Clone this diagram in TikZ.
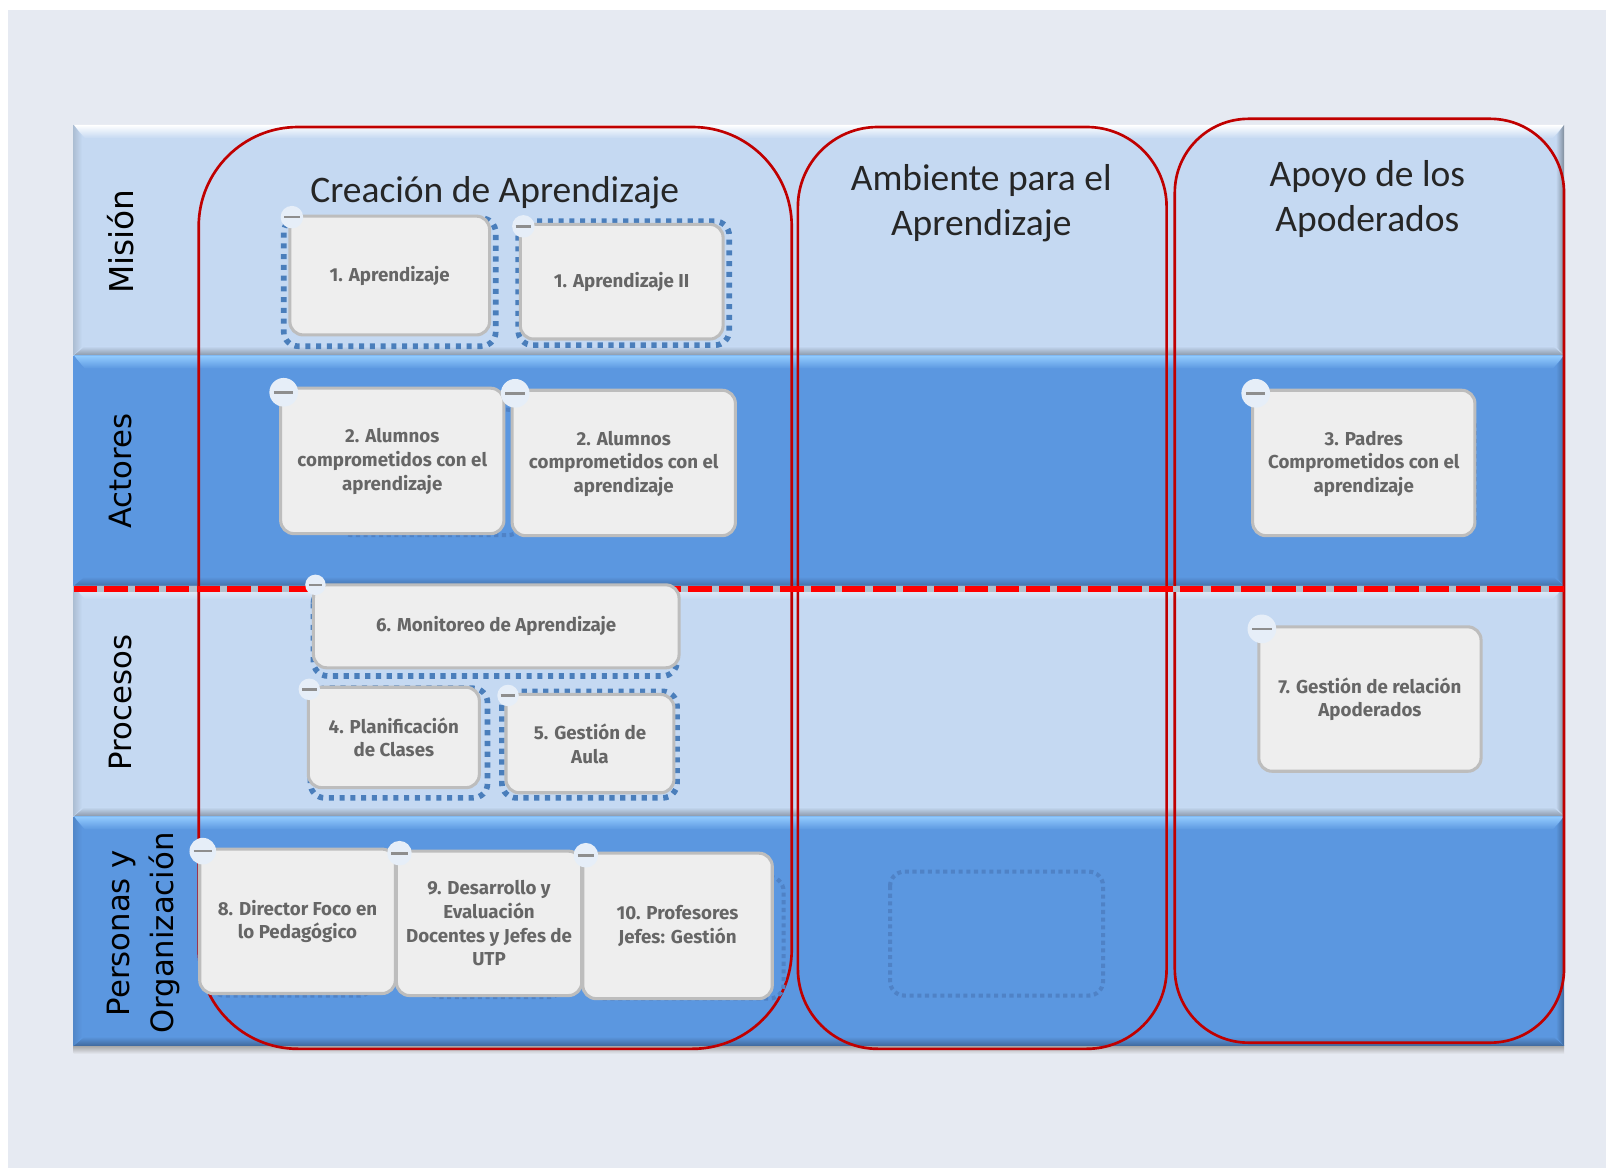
\documentclass[tikz,border=0pt]{standalone}
\usepackage{fontspec}
\setmainfont{Carlito}
\newfontfamily\cardfont{Fira Sans}
\newfontfamily\rowfont{DejaVu Sans}
\usetikzlibrary{calc}
\definecolor{pagebg}{HTML}{E6EAF2}
\definecolor{lightband}{HTML}{C5D9F2}
\definecolor{darkband}{HTML}{5B97E0}
\definecolor{bevelhi}{HTML}{93CCFF}
\definecolor{gapgray}{HTML}{B4BFCC}
\definecolor{framered}{HTML}{C00000}
\definecolor{dotblue}{HTML}{4A7EBB}
\definecolor{dimblue}{HTML}{4F82C6}
\definecolor{cardfill}{HTML}{EEEEEE}
\definecolor{cardline}{HTML}{BDBDBD}
\definecolor{cardtext}{HTML}{666666}
\definecolor{iconfill}{HTML}{E6EEF8}
\definecolor{iconbar}{HTML}{8E8E8E}
\tikzset{
  cardbox/.style={draw=cardline,line width=3pt,fill=cardfill,rounded corners=13pt,inner sep=0pt,
    align=center,text=cardtext,font=\cardfont\bfseries\fontsize{18.3}{23}\selectfont},
  frame/.style={draw=framered,line width=2.6pt},
  dotbox/.style={draw=dotblue,line width=5.5pt,dash pattern=on 5pt off 5.5pt,rounded corners=14pt},
  dimbox/.style={draw=dimblue,line width=4pt,dash pattern=on 4pt off 3.5pt,rounded corners=14pt},
  title/.style={inner sep=0pt,align=center,text=black!85,font=\fontsize{36.6}{44}\selectfont},
  rowlabel/.style={inner sep=0pt,rotate=90,align=center,text=black,font=\rowfont\fontsize{30}{43}\selectfont},
  iconbg/.style={circle,fill=iconfill,draw=none,inner sep=0pt},
  iconline/.style={draw=iconbar,line width=2.6pt},
}
% y0 y1 fill topstart bottom-bevel left right
\newcommand{\bandrow}[7]{%
  \fill[#3] (72,#1) rectangle (1527,#2);
  \shade[top color=#4,middle color=#4,bottom color=#3] (72,#1) -- (1527,#1) -- (1516,#1+13) -- (83,#1+13) -- cycle;
  \shade[top color=#3,bottom color=#5] (72,#2) -- (1527,#2) -- (1516,#2-9) -- (83,#2-9) -- cycle;
  \shade[left color=#6,right color=#3] (72,#1) -- (80,#1+11) -- (80,#2-9) -- (72,#2) -- cycle;
  \shade[left color=#3,right color=#7] (1527,#1) -- (1519,#1+11) -- (1519,#2-9) -- (1527,#2) -- cycle;
}
\newcommand{\minus}[4]{% name x y r
  \node[iconbg,minimum size=#4*2pt] (#1) at (#2,#3) {};
  \draw[iconline] ($(#1.center)+(-#4*0.68,0)$) -- ($(#1.center)+(#4*0.68,0)$);
}
\begin{document}
\begin{tikzpicture}[x=1pt,y=-1pt]
\useasboundingbox (0,0) rectangle (1568,1140.4);
\fill[white] (0,0) rectangle (1568,1140.4);
\fill[pagebg] (8,10) rectangle (1568,1140);
% soft shadow under the table
\shade[top color=black!35,bottom color=pagebg] (72,1021) rectangle (1527,1029);
% bands
\bandrow{122}{347}{lightband}{white}{black!30!lightband}{black!12!lightband}{black!35!lightband}
\bandrow{347}{572}{darkband}{bevelhi}{black!25!darkband}{darkband}{black!25!darkband}
\bandrow{572}{797}{lightband}{white!75!lightband}{black!30!lightband}{black!12!lightband}{black!35!lightband}
\bandrow{797}{1021}{darkband}{bevelhi}{black!30!darkband}{black!10!darkband}{black!30!darkband}
% red frames
\draw[frame] (194,124) [rounded corners=97pt] rectangle (773,1024);
\draw[frame] (779,124) [rounded corners=78pt] rectangle (1139,1024);
\draw[frame] (1147,116) [rounded corners=72pt] rectangle (1527,1018);
% dashed divider
\coordinate (divL) at (72,575);
\coordinate (divR) at (1527,575);
\draw[gapgray,line width=6.5pt] (divL) -- (divR);
\draw[red,line width=6.5pt,dash pattern=on 23pt off 7pt] (divL) -- (divR);
% titles
\node[title] (tCrea) at (483,188) {Creación de Aprendizaje};
\node[title] (tAmb) at (958,198) {Ambiente para el\\Aprendizaje};
\node[title] (tApo) at (1335,194) {Apoyo de los\\Apoderados};
% row labels
\node[rowlabel,font=\rowfont\fontsize{32}{43}\selectfont] (rMis) at (118,236) {Misión};
\node[rowlabel] (rAct) at (118,460) {Actores};
\node[rowlabel] (rPro) at (118,686) {Procesos};
\node[rowlabel] (rPer) at (140,911) {Personas y\\Organización};
% dotted outlines behind the cards
\draw[dotbox] (277,213) rectangle (484,338);
\draw[dotbox] (506,216) rectangle (712,337);
\draw[dotbox] (306,575) rectangle (661,660);
\draw[dotbox] (303,672) rectangle (476,779);
\draw[dotbox] (490,675) rectangle (661,779);
\draw[dimbox] (330,400) rectangle (510,522.5);
\draw[dimbox] (205,840) rectangle (365,972);
\draw[dimbox] (415,840) rectangle (550,973.5);
\draw[dimbox] (575,856) rectangle (765,975);
\draw[dimbox] (869,851) rectangle (1077,972);
\draw[dimbox,line width=2pt] (1300,400) rectangle (1441,520);
% cards
\node[cardbox,minimum width=195pt,minimum height=116pt] (a1) at (380.5,269) {1. Aprendizaje};
\node[cardbox,minimum width=198pt,minimum height=112pt] (a2) at (607,275) {1. Aprendizaje II};
\node[cardbox,minimum width=218pt,minimum height=142pt] (b1) at (383,450) {\rule{0pt}{15pt}2. Alumnos\\comprometidos con el\\aprendizaje};
\node[cardbox,minimum width=218pt,minimum height=142pt] (b2) at (609,452) {\rule{0pt}{15pt}2. Alumnos\\comprometidos con el\\aprendizaje};
\node[cardbox,minimum width=217pt,minimum height=142pt] (b3) at (1331.5,452) {\rule{0pt}{15pt}3. Padres\\Comprometidos con el\\aprendizaje};
\node[cardbox,minimum width=357pt,minimum height=81pt] (p6) at (484.5,611.5) {6. Monitoreo de Aprendizaje};
\node[cardbox,minimum width=167pt,minimum height=98pt] (p4) at (384.5,720) {4. Planificación\\de Clases};
\node[cardbox,minimum width=164pt,minimum height=96pt] (p5) at (576,726) {5. Gestión de\\Aula};
\node[cardbox,minimum width=217pt,minimum height=141pt] (p7) at (1337.5,682.5) {7. Gestión de relación\\Apoderados};
\node[cardbox,minimum width=191pt,minimum height=141pt] (o8) at (290.5,899.5) {8. Director Foco en\\lo Pedagógico};
\node[cardbox,minimum width=181pt,minimum height=141pt] (o9) at (477.5,901.5) {9. Desarrollo y\\Evaluación\\Docentes y Jefes de\\UTP};
\node[cardbox,minimum width=185pt,minimum height=142pt] (o10) at (661.5,904) {10. Profesores\\Jefes: Gestión};
% collapse icons
\minus{ia1}{285}{212}{11}
\minus{ia2}{511}{221}{11}
\minus{ib1}{277}{383}{14}
\minus{ib2}{503}{384}{14}
\minus{ib3}{1226}{384}{14}
\minus{ip6}{308}{571}{10}
\minus{ip4}{302}{673}{10.5}
\minus{ip5}{496}{679}{10.5}
\minus{ip7}{1232}{614}{14}
\minus{io8}{198}{831}{13}
\minus{io9}{390}{833}{12}
\minus{io10}{572}{835}{12}
\end{tikzpicture}
\end{document}
